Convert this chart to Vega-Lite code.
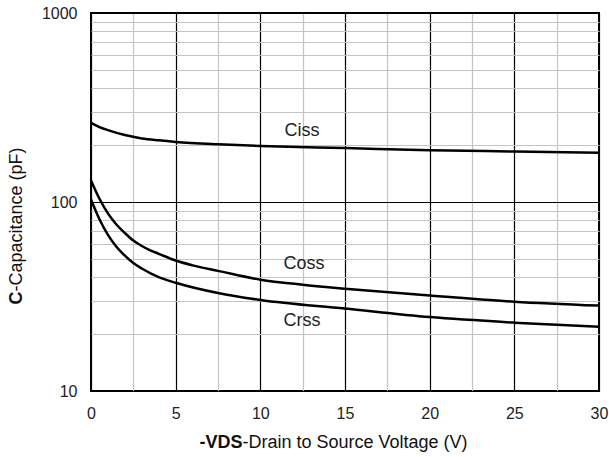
{
  "$schema": "https://vega.github.io/schema/vega-lite/v6.json",
  "width": 508,
  "height": 378,
  "autosize": {"type": "none"},
  "padding": {"left": 91, "top": 13, "right": 10, "bottom": 66},
  "config": {
    "font": "Liberation Sans",
    "view": {"stroke": "#000", "strokeWidth": 2},
    "axis": {"domain": false, "ticks": false, "labelFlush": false}
  },
  "datasets": {
    "curves": [
      {"series": "Ciss", "V": 0, "C": 262},
      {"series": "Ciss", "V": 0.5, "C": 249},
      {"series": "Ciss", "V": 1, "C": 240},
      {"series": "Ciss", "V": 2, "C": 226},
      {"series": "Ciss", "V": 3, "C": 217},
      {"series": "Ciss", "V": 4, "C": 212},
      {"series": "Ciss", "V": 5, "C": 208},
      {"series": "Ciss", "V": 7.5, "C": 202},
      {"series": "Ciss", "V": 10, "C": 198},
      {"series": "Ciss", "V": 15, "C": 193},
      {"series": "Ciss", "V": 20, "C": 188},
      {"series": "Ciss", "V": 25, "C": 185},
      {"series": "Ciss", "V": 30, "C": 182},
      {"series": "Coss", "V": 0, "C": 130},
      {"series": "Coss", "V": 0.5, "C": 104},
      {"series": "Coss", "V": 1, "C": 87},
      {"series": "Coss", "V": 1.5, "C": 76},
      {"series": "Coss", "V": 2, "C": 68.5},
      {"series": "Coss", "V": 2.5, "C": 62.5},
      {"series": "Coss", "V": 3, "C": 58.5},
      {"series": "Coss", "V": 3.5, "C": 55.5},
      {"series": "Coss", "V": 4, "C": 53.2},
      {"series": "Coss", "V": 5, "C": 49},
      {"series": "Coss", "V": 6, "C": 46.2},
      {"series": "Coss", "V": 7.5, "C": 43.2},
      {"series": "Coss", "V": 10, "C": 38.8},
      {"series": "Coss", "V": 12.5, "C": 36.5},
      {"series": "Coss", "V": 15, "C": 34.8},
      {"series": "Coss", "V": 20, "C": 32},
      {"series": "Coss", "V": 25, "C": 29.7},
      {"series": "Coss", "V": 30, "C": 28.3},
      {"series": "Crss", "V": 0, "C": 103},
      {"series": "Crss", "V": 0.5, "C": 81},
      {"series": "Crss", "V": 1, "C": 67},
      {"series": "Crss", "V": 1.5, "C": 58},
      {"series": "Crss", "V": 2, "C": 52},
      {"series": "Crss", "V": 2.5, "C": 47.5},
      {"series": "Crss", "V": 3, "C": 44.5},
      {"series": "Crss", "V": 4, "C": 40},
      {"series": "Crss", "V": 5, "C": 37.4},
      {"series": "Crss", "V": 7.5, "C": 33},
      {"series": "Crss", "V": 10, "C": 30.3},
      {"series": "Crss", "V": 15, "C": 27.3},
      {"series": "Crss", "V": 20, "C": 24.6},
      {"series": "Crss", "V": 25, "C": 23},
      {"series": "Crss", "V": 30, "C": 21.9}
    ],
    "labels": [
      {"label": "Ciss", "V": 12.46, "C": 238},
      {"label": "Coss", "V": 12.58, "C": 47},
      {"label": "Crss", "V": 12.46, "C": 23.6}
    ]
  },
  "layer": [
    {
      "data": {"name": "curves"},
      "mark": {"type": "line", "color": "#000", "strokeWidth": 2.5, "interpolate": "monotone"},
      "encoding": {
        "x": {
          "field": "V", "type": "quantitative",
          "scale": {"domain": [0, 30], "nice": false, "zero": false},
          "axis": {
            "orient": "bottom",
            "values": [0, 2.5, 5, 7.5, 10, 12.5, 15, 17.5, 20, 22.5, 25, 27.5, 30],
            "labelExpr": "datum.value % 5 === 0 ? datum.label : ''",
            "labelFontSize": 16, "labelColor": "#222", "labelPadding": 14,
            "grid": true,
            "gridColor": {"condition": {"test": "datum.value % 5 === 0", "value": "#000"}, "value": "#c4c4c4"},
            "gridOpacity": 1,
            "gridWidth": 1.2,
            "title": "-VDS",
            "titleFontWeight": "bold", "titleFontSize": 18, "titleColor": "#111",
            "titleAlign": "right", "titleBaseline": "alphabetic",
            "titleX": 151, "titleY": 56
          }
        },
        "y": {
          "field": "C", "type": "quantitative",
          "scale": {"type": "log", "domain": [10, 1000], "nice": false},
          "axis": {
            "orient": "left",
            "values": [10, 20, 30, 40, 50, 60, 70, 80, 90, 100, 200, 300, 400, 500, 600, 700, 800, 900, 1000],
            "format": "d",
            "labelExpr": "indexof([10, 100, 1000], datum.value) >= 0 ? datum.label : ''",
            "labelFontSize": 16, "labelColor": "#222", "labelPadding": 14,
            "grid": true,
            "gridColor": {"condition": {"test": "indexof([10, 100, 1000], datum.value) >= 0", "value": "#000"}, "value": "#c4c4c4"},
            "gridOpacity": 1,
            "gridWidth": 1.2,
            "title": "C",
            "titleFontWeight": "bold", "titleFontSize": 18, "titleColor": "#111",
            "titleAngle": -90, "titleAlign": "right", "titleBaseline": "alphabetic",
            "titleX": -70, "titleY": 278
          }
        },
        "detail": {"field": "series", "type": "nominal"}
      }
    },
    {
      "data": {"name": "labels"},
      "mark": {"type": "text", "fontSize": 18, "color": "#222", "baseline": "middle", "align": "center"},
      "encoding": {
        "x": {
          "field": "V", "type": "quantitative",
          "axis": {
            "orient": "bottom", "labels": false, "grid": false, "domain": false, "ticks": false,
            "title": "-Drain to Source Voltage (V)",
            "titleFontWeight": "normal", "titleFontSize": 18, "titleColor": "#111",
            "titleAlign": "left", "titleBaseline": "alphabetic",
            "titleX": 151, "titleY": 56
          }
        },
        "y": {
          "field": "C", "type": "quantitative",
          "axis": {
            "orient": "left", "labels": false, "grid": false, "domain": false, "ticks": false,
            "title": "-Capacitance (pF)",
            "titleFontWeight": "normal", "titleFontSize": 18, "titleColor": "#111",
            "titleAngle": -90, "titleAlign": "left", "titleBaseline": "alphabetic",
            "titleX": -70, "titleY": 278
          }
        },
        "text": {"field": "label", "type": "nominal"}
      }
    }
  ],
  "resolve": {"axis": {"x": "independent", "y": "independent"}}
}
